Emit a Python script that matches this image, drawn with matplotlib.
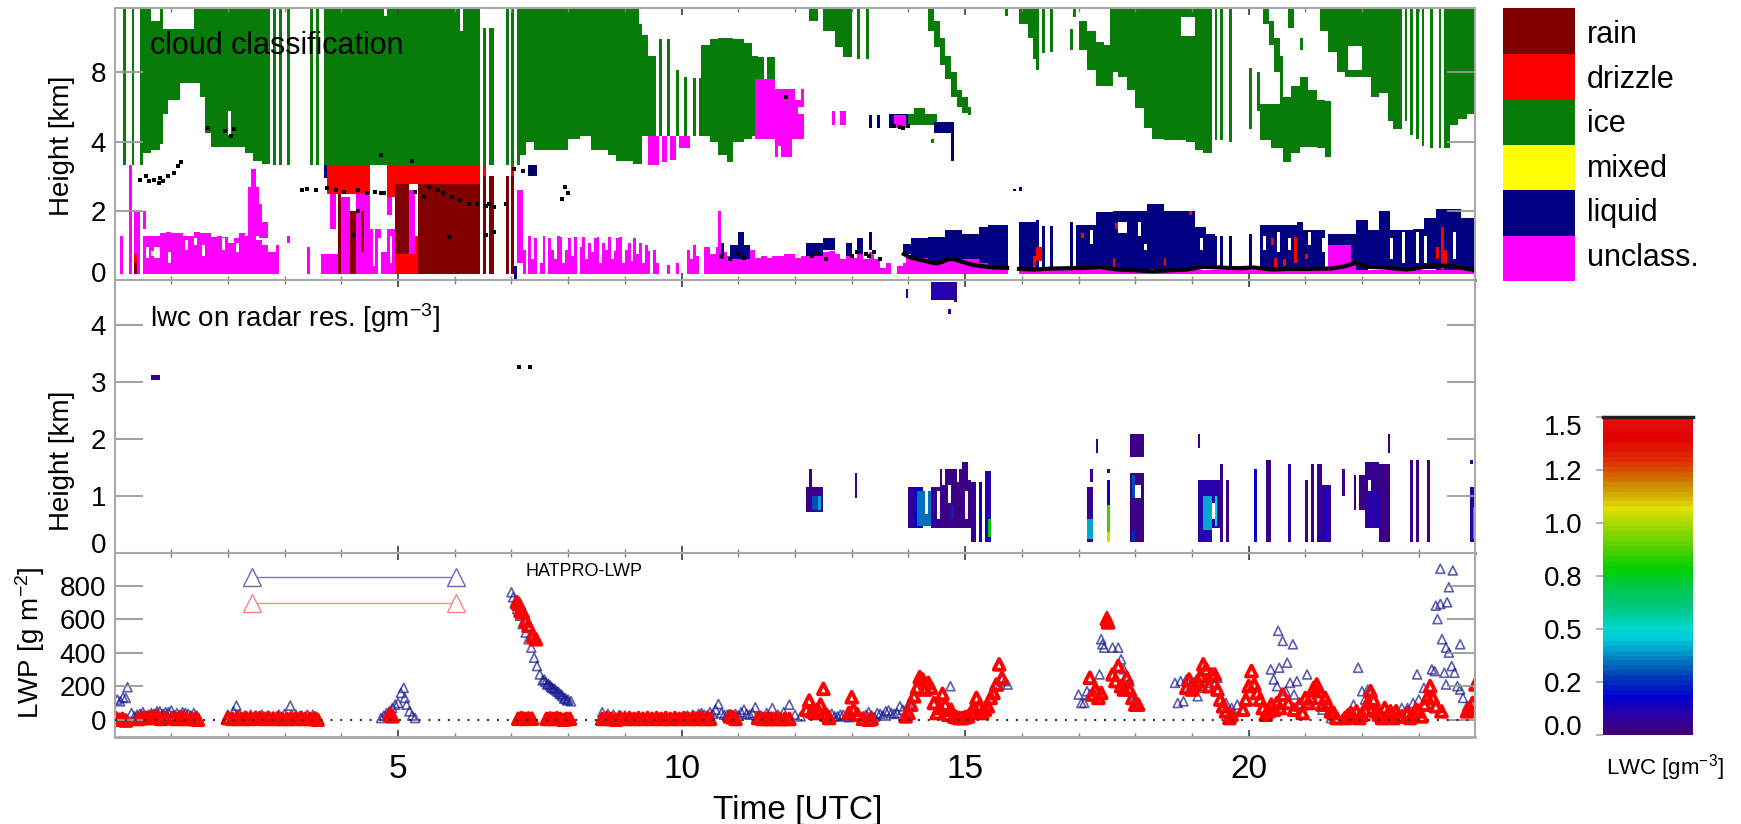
import numpy as np
import matplotlib
matplotlib.use("Agg")
import matplotlib.pyplot as plt
from matplotlib.colors import ListedColormap, LinearSegmentedColormap
from matplotlib.patches import Rectangle
from matplotlib.transforms import ScaledTranslation

plt.rcParams['font.family'] = ['Liberation Sans', 'DejaVu Sans']
plt.rcParams['mathtext.default'] = 'regular'

W, H = 1741, 824
GREY = '#a8a8a8'

# ---- cloud classification: height axis positions 0,2,4,6 carry labels 0,2,4,8
class_names = ['rain', 'drizzle', 'ice', 'mixed', 'liquid', 'unclass.']
class_colors = ['#800000', '#ff0000', '#087c08', '#ffff00', '#000080', '#ff00ff']
RAIN, DRIZZLE, ICE, MIXED, LIQUID, UNCLASS = 6, 5, 4, 3, 2, 1

height_ticks = [0, 2, 4, 6]
height_labels = ['0', '2', '4', '8']

ice_stripes = [0.13, 0.28, 0.44, 2.80, 2.92, 3.06, 3.43, 3.55, 3.68, 6.89, 6.98, 7.11,
               19.41, 19.51, 19.66, 22.75, 22.85, 22.94, 23.04, 23.2, 23.35]
ice_stripe_base = [3.31, 3.31, 3.31, 3.31, 3.31, 3.31, 3.31, 3.31, 3.31, 3.31, 3.31, 3.31,
                   4.05, 4.05, 4.0, 4.6, 4.2, 4.1, 3.9, 3.8, 3.8]
ice_blocks = [  # t0, t1, base, top
    (3.74, 6.44, 3.31, 7.86), (6.48, 6.54, 3.31, 7.28), (6.62, 6.68, 3.31, 7.28),
    (9.61, 9.66, 4.18, 6.94), (9.73, 9.78, 4.18, 6.94), (9.92, 9.97, 4.18, 6.1),
    (10.07, 10.12, 4.18, 5.9), (10.22, 10.27, 4.18, 5.83), (10.32, 10.36, 4.18, 5.83),
    (11.37, 11.45, 5.78, 6.45), (11.5, 11.64, 5.78, 6.45), (12.25, 12.4, 7.5, 7.86),
    (13.1, 13.15, 6.4, 7.86), (13.25, 13.3, 6.4, 7.86), (13.93, 14.5, 4.5, 4.8),
    (14.1, 14.3, 4.7, 4.95), (14.38, 14.43, 3.95, 4.1), (15.72, 15.77, 7.66, 7.86),
    (16.35, 16.4, 6.55, 7.86), (16.49, 16.54, 6.6, 7.86), (16.88, 16.93, 7.6, 7.86),
    (16.84, 16.91, 6.65, 7.23), (20.02, 20.07, 4.38, 6.12), (20.15, 20.2, 4.9, 6.0),
    (20.72, 20.78, 7.3, 7.86), (20.92, 20.97, 6.65, 7.0),
]
ice_body1_t = [0.49, 0.64, 0.78, 0.85, 0.93, 1.13, 1.42, 1.52, 1.59, 1.72, 2.11, 2.3, 2.45, 2.6, 2.75]
ice_body1_base = [3.7, 3.75, 3.94, 4.81, 5.2, 5.68, 5.68, 5.3, 4.23, 3.85, 3.85, 3.7, 3.46, 3.36]
ice_body1_top = [7.86, 7.5, 7.86, 7.23, 7.23, 7.23, 7.86, 7.86, 7.86, 7.86, 7.86, 7.86, 7.86, 7.86]

ice_body3_t = [7.13, 7.25, 7.4, 7.79, 7.99, 8.19, 8.38, 8.68, 8.87, 9.17, 9.25, 9.3, 9.41, 9.55]
ice_body3_base = [3.6, 4.0, 3.75, 3.75, 4.07, 4.15, 3.75, 3.6, 3.45, 3.36, 3.36, 4.18, 4.18]
ice_body3_top = [7.86, 7.86, 7.86, 7.86, 7.86, 7.86, 7.86, 7.86, 7.86, 7.86, 7.4, 7.1, 6.5]

ice_body4_t = [10.37, 10.5, 10.65, 10.78, 10.9, 11.1, 11.25, 11.34]
ice_body4_base = [4.18, 4.0, 3.6, 3.4, 4.0, 4.1, 4.18]
ice_body4_top = [6.79, 6.98, 7.02, 7.0, 6.95, 6.85, 6.5]

ice_body5_t = [12.48, 12.7, 12.85, 13.0]
ice_body5_base = [7.2, 6.74, 6.45]
ice_body5_top = [7.86, 7.86, 7.86]

ice_streak1_t = [14.33, 14.43, 14.53, 14.63, 14.73, 14.83, 14.93, 15.03, 15.1]
ice_streak1_base = [7.2, 6.7, 6.2, 5.8, 5.3, 5.0, 4.85, 4.75]
ice_streak1_top = [7.86, 7.5, 7.0, 6.5, 6.0, 5.5, 5.3, 5.0]

ice_bodyA_t = [15.96, 16.1, 16.2, 16.27, 16.32]
ice_bodyA_base = [7.4, 7.0, 6.4, 6.1]
ice_bodyA_top = [7.86, 7.86, 7.86, 7.86]

ice_streak2_t = [17.0, 17.15, 17.3, 17.45, 17.6]
ice_streak2_base = [6.65, 6.1, 5.6, 5.6]
ice_streak2_top = [7.5, 7.2, 6.9, 6.8]

ice_bodyB_t = [17.55, 17.7, 17.85, 18.0, 18.15, 18.3, 18.5, 18.7, 18.9, 19.05, 19.2, 19.35]
ice_bodyB_base = [6.0, 5.9, 5.5, 4.95, 4.4, 4.1, 4.05, 4.05, 4.0, 3.75, 3.7]
ice_bodyB_top = [7.86] * 11

ice_streak3_t = [20.25, 20.34, 20.44, 20.54, 20.62]
ice_streak3_base = [7.4, 6.8, 6.0, 4.5]
ice_streak3_top = [7.86, 7.5, 7.0, 6.5]

ice_bodyC_t = [20.2, 20.4, 20.6, 20.75, 20.9, 21.05, 21.2, 21.35, 21.43, 21.47]
ice_bodyC_base = [4.04, 3.8, 3.4, 3.7, 3.85, 3.85, 3.8, 3.55, 3.6]
ice_bodyC_top = [5.1, 5.1, 5.3, 5.6, 5.9, 5.5, 5.2, 5.15, 4.3]

ice_bodyD_t = [21.23, 21.4, 21.55, 21.7, 21.85, 22.0, 22.15, 22.3, 22.45, 22.55, 22.7]
ice_bodyD_base = [7.2, 6.6, 6.0, 5.9, 5.9, 5.9, 5.3, 5.4, 4.6, 4.35]
ice_bodyD_top = [7.86] * 10
ice_bodyE_t = [23.45, 23.53, 23.7, 23.85, 24.0]
ice_bodyE_base = [3.8, 4.5, 4.65, 4.8]
ice_bodyE_top = [7.86, 7.86, 7.86, 7.86]

ice_holes = [(4.75, 4.8, 7.65, 7.86), (6.08, 6.15, 7.2, 7.86), (18.8, 19.05, 7.03, 7.6),
             (21.75, 22.0, 6.07, 6.75), (1.05, 1.1, 4.6, 5.0), (2.0, 2.05, 4.2, 4.9)]

# low level "unclass." columns
unclass_t1 = [0.5, 0.6, 0.7, 0.8, 0.9, 1.0, 1.1, 1.2, 1.3, 1.4, 1.5, 1.6, 1.7, 1.8, 1.9, 2.0, 2.1,
              2.2, 2.3, 2.4, 2.5, 2.6, 2.7, 2.8]
unclass_top1 = [1.3, 1.3, 1.3, 1.35, 1.4, 1.35, 1.35, 1.3, 1.3, 1.4, 1.35, 1.35, 1.25, 1.3, 1.25,
                1.1, 1.2, 1.35, 1.3, 1.3, 1.15, 1.0, 0.8, 0.8]
unclass_t2 = [7.2, 7.25, 7.3, 7.35, 7.4, 7.45, 7.5, 7.55, 7.6, 7.65, 7.7, 7.75, 7.8, 7.85, 7.9, 7.95,
              8.0, 8.05, 8.1, 8.15, 8.2, 8.25, 8.3, 8.35, 8.4, 8.45, 8.5, 8.55, 8.6, 8.65, 8.7, 8.75,
              8.8, 8.85, 8.9, 8.95, 9.0, 9.05, 9.1, 9.15, 9.2, 9.25, 9.3, 9.35, 9.4, 9.45, 9.5, 9.55,
              9.6, 9.65, 9.7, 9.75, 9.8, 9.85, 9.9, 9.95, 10.0, 10.05, 10.1, 10.15, 10.2, 10.25]
unclass_top2 = [0.9, 0, 1.3, 0.6, 1.2, 0, 0.5, 1.3, 0, 1.2, 0.9, 0.6, 1.3, 1.25, 0.5, 0.9, 1.2, 0.7,
                1.25, 0, 0.95, 1.25, 0.6, 1.1, 0.8, 1.2, 1.25, 0.5, 1.1, 0.9, 1.25, 0.6, 0.85, 1.2,
                1.25, 0.5, 0.9, 1.1, 0.55, 1.2, 0.75, 1.1, 0.5, 1.0, 0.85, 0, 0.9, 0.5, 0, 0, 0,
                0.45, 0, 0, 0.5, 0, 0, 0, 0.9, 0.6, 1.0, 0.7]
unclass_t3 = [10.4, 10.5, 10.6, 10.7, 10.8, 10.9, 11.0, 11.1, 11.2, 11.3, 11.4, 11.5, 11.6, 11.7, 11.8,
              11.9, 12.0, 12.1, 12.2, 12.3, 12.4, 12.5, 12.6, 12.7, 12.8, 12.9, 13.0, 13.1, 13.2, 13.3,
              13.4, 13.5, 13.6, 13.7, 13.8, 13.9]
unclass_top3 = [0.95, 0.75, 0.95, 0.8, 0.7, 0.85, 0.7, 0.65, 0.9, 0.65, 0.7, 0.65, 0.7, 0.7, 0.75, 0.75,
                0.65, 0.7, 0.85, 0.8, 0.8, 0.8, 0.85, 0.75, 0.6, 0.75, 0.65, 0.8, 0.6, 0.8, 0.6, 0.35,
                0.5, 0, 0.4, 0.5]
unclass_blocks = [
    (0.1, 0.16, 0.18, 1.3), (0.23, 0.29, 0.18, 3.31), (0.33, 0.45, 0.18, 1.95), (0.49, 0.53, 1.5, 2.0),
    (2.37, 2.55, 1.3, 2.7), (2.55, 2.62, 1.2, 2.2), (2.62, 2.72, 1.2, 1.7), (2.42, 2.48, 2.7, 3.2),
    (2.84, 2.88, 0.18, 1.0), (3.07, 3.1, 1.1, 1.3), (3.4, 3.44, 0.18, 0.95), (3.54, 3.57, 0.18, 0.6),
    (3.63, 3.95, 0.18, 0.75), (3.8, 3.88, 1.5, 2.6), (4.02, 4.15, 0.18, 2.4), (4.27, 4.48, 0.18, 2.49),
    (4.48, 4.95, 0.18, 1.5), (4.8, 4.9, 1.9, 2.4), (5.18, 5.3, 0.76, 2.6), (7.12, 7.2, 0.5, 2.6),
    (10.64, 10.7, 0.8, 2.0), (11.32, 12.17, 4.1, 5.53), (11.65, 11.95, 3.55, 4.1), (11.3, 11.66, 5.5, 5.78),
    (12.65, 12.7, 4.5, 4.9), (12.8, 12.9, 4.5, 4.9),
    (9.38, 9.6, 3.31, 4.18), (9.66, 9.73, 3.4, 4.18), (9.78, 9.92, 3.5, 4.18), (9.97, 10.15, 3.8, 4.18),
    (21.42, 21.8, 0.17, 1.0), (21.8, 21.9, 0.17, 0.5),
]
unclass_holes = [(0.55, 0.62, 0.65, 0.95), (0.72, 0.78, 0.65, 0.95), (0.95, 1.0, 0.5, 0.8),
                 (1.25, 1.3, 0.9, 1.15), (1.55, 1.6, 0.7, 1.0), (1.9, 1.95, 0.9, 1.2),
                 (2.15, 2.2, 0.8, 1.1), (0.65, 0.7, 0.7, 0.85), (1.4, 1.45, 1.0, 1.2), (1.68, 1.72, 0.75, 0.95),
                 (4.48, 4.8, 1.52, 3.31), (4.48, 4.52, 0.18, 1.5), (4.55, 4.62, 0.4, 1.5), (4.65, 4.7, 0.18, 1.2),
                 (4.72, 4.78, 0.8, 1.5), (4.85, 4.9, 0.5, 1.3), (3.68, 3.72, 0.4, 0.75),
                 (11.7, 11.75, 3.55, 3.9), (12.0, 12.1, 5.2, 5.53), (12.05, 12.17, 4.8, 5.0)]

# precipitation blocks
drizzle_blocks = [(3.76, 4.48, 2.49, 3.31), (4.8, 6.45, 2.78, 3.31), (4.8, 4.95, 2.4, 2.78), (4.95, 5.3, 0.18, 0.76),
                  (5.3, 5.36, 0.18, 1.3), (6.48, 6.54, 3.02, 3.31), (6.98, 7.05, 3.02, 3.31), (0.33, 0.4, 0.18, 0.75),
                  (16.27, 16.37, 0.56, 0.95), (16.2, 16.25, 0.35, 0.7), (17.62, 17.67, 0.37, 0.66), (17.05, 17.1, 1.2, 1.35),
                  (18.5, 18.55, 0.4, 0.65), (20.78, 20.83, 0.46, 1.24), (20.45, 20.5, 0.35, 0.66), (20.6, 20.65, 0.4, 0.6),
                  (23.38, 23.43, 0.27, 1.53), (23.3, 23.35, 0.6, 0.95), (23.45, 23.5, 0.4, 0.9), (21.0, 21.05, 0.6, 0.75),
                  (18.96, 19.0, 1.9, 2.0), (17.65, 17.7, 1.5, 1.65), (20.4, 20.43, 1.0, 1.2)]
rain_blocks = [(0.23, 0.27, 1.8, 2.6), (0.23, 0.27, 0.9, 1.2), (0.36, 0.4, 0.18, 0.5), (3.95, 4.02, 0.18, 2.49), (4.15, 4.27, 0.18, 2.0),
               (4.37, 4.42, 0.8, 2.0), (4.95, 5.18, 0.76, 2.78), (5.36, 6.45, 0.18, 2.78), (6.48, 6.54, 0.18, 3.02),
               (6.62, 6.68, 0.18, 3.02), (6.89, 6.95, 0.18, 3.02), (6.98, 7.05, 0.18, 3.02)]

# liquid profile: t, base, top
liquid_t1 = [13.92, 14.07, 14.36, 14.66, 14.95, 15.25, 15.39, 15.74]
liquid_base1 = [0.75, 0.66, 0.51, 0.56, 0.61, 0.46, 0.42]
liquid_top1 = [1.04, 1.19, 1.24, 1.43, 1.33, 1.53, 1.6]
liquid_t2 = [15.96, 16.23, 16.32]
liquid_base2 = [0.32, 0.32]
liquid_top2 = [1.67, 1.72]
liquid_t3 = [16.96, 17.3, 17.6, 17.89, 18.19, 18.48, 18.97, 19.07, 19.26, 19.4]
liquid_base3 = [0.32, 0.32, 0.32, 0.32, 0.32, 0.32, 0.32, 0.32, 0.32]
liquid_top3 = [1.62, 1.96, 2.0, 2.0, 2.2, 2.0, 2.0, 1.53, 1.33]
liquid_t4 = [20.2, 20.83, 20.93, 21.37]
liquid_base4 = [0.32, 0.32, 0.32]
liquid_top4 = [1.62, 1.67, 1.43]
liquid_t5 = [21.42, 21.91, 22.1, 22.3, 22.5, 22.89, 23.09, 23.28, 23.77, 24.0]
liquid_base5 = [0.3, 0.3, 0.32, 0.32, 0.32, 0.32, 0.32, 0.3, 0.3]
liquid_top5 = [1.33, 1.72, 1.43, 2.0, 1.43, 1.5, 1.8, 2.06, 1.8]
liquid_blocks = [
    (16.35, 16.4, 0.32, 1.55), (16.49, 16.54, 0.32, 1.55), (16.84, 16.91, 0.32, 1.7),
    (19.41, 19.46, 0.32, 1.3), (19.51, 19.56, 0.32, 1.3), (19.66, 19.71, 0.32, 1.3), (20.02, 20.07, 0.32, 1.33),
    (10.85, 11.2, 0.6, 1.0), (11.0, 11.1, 1.0, 1.4), (10.7, 10.75, 0.6, 1.1), (12.2, 12.5, 0.7, 1.1),
    (12.5, 12.7, 0.9, 1.2), (12.9, 13.0, 0.7, 1.1), (13.1, 13.2, 0.75, 1.2), (13.28, 13.35, 0.9, 1.4),
    (3.68, 3.74, 2.97, 3.31), (4.05, 4.1, 3.0, 3.31), (4.22, 4.3, 2.9, 3.31), (4.34, 4.45, 3.05, 3.31),
    (5.62, 5.68, 3.0, 3.31), (5.75, 5.8, 3.05, 3.31), (7.3, 7.45, 3.0, 3.31),
    (13.3, 13.35, 4.4, 4.75), (13.45, 13.5, 4.4, 4.75), (13.65, 14.0, 4.4, 4.8), (14.46, 14.8, 4.23, 4.57),
    (14.76, 14.8, 3.46, 4.23), (15.95, 16.0, 2.55, 2.7), (15.86, 15.9, 2.55, 2.65), (7.05, 7.1, 0.05, 0.4),
]
liquid_holes = [(16.55, 16.83, 0.32, 1.7), (17.7, 17.85, 1.35, 1.7), (17.2, 17.25, 1.05, 1.45), (18.05, 18.1, 1.3, 1.7),
                (18.14, 18.2, 0.9, 1.05), (19.15, 19.2, 0.9, 1.2), (20.25, 20.3, 0.9, 1.3), (20.52, 20.57, 0.8, 1.4),
                (20.7, 20.73, 0.9, 1.2), (21.05, 21.1, 1.0, 1.4), (21.3, 21.35, 0.8, 1.2), (22.5, 22.55, 0.6, 1.2),
                (22.7, 22.75, 0.5, 1.4), (22.95, 23.0, 0.5, 1.4), (23.12, 23.16, 0.5, 1.3), (23.6, 23.65, 0.6, 1.4)]

# ceilometer cloud base and melting layer dots
ceilo_t = [13.92, 14.0, 14.1, 14.2, 14.3, 14.4, 14.5, 14.6, 14.7, 14.8, 14.9, 15.0, 15.1, 15.2, 15.3, 15.4, 15.5, 15.6, 15.74,
           np.nan, 15.95, 16.2, 16.5, 16.8, 17.1, 17.4, 17.7, 18.0, 18.3, 18.6, 18.9, 19.2, 19.5, 19.8, 20.1, 20.4, 20.7, 21.0, 21.37,
           np.nan, 21.45, 21.7, 21.9, 22.1, 22.4, 22.6, 22.8, 23.0, 23.2, 23.4, 23.6, 23.8, 23.98]
ceilo_h = [0.75, 0.68, 0.62, 0.58, 0.55, 0.5, 0.48, 0.53, 0.6, 0.6, 0.55, 0.5, 0.45, 0.42, 0.4, 0.38, 0.36, 0.36, 0.35,
           np.nan, 0.32, 0.3, 0.33, 0.34, 0.35, 0.36, 0.3, 0.28, 0.25, 0.28, 0.3, 0.38, 0.36, 0.34, 0.36, 0.3, 0.32, 0.32, 0.33,
           np.nan, 0.33, 0.4, 0.5, 0.38, 0.36, 0.33, 0.3, 0.35, 0.4, 0.42, 0.4, 0.34, 0.28]
melt_t = [0.45, 0.55, 0.7, 0.78, 0.85, 0.95, 1.05, 1.12, 1.18, 0.6, 0.8, 3.3, 3.4, 3.55, 3.75, 3.9, 4.05, 4.3, 4.45, 4.6, 4.7, 4.75,
          4.3, 4.2, 5.3, 5.45, 5.55, 5.7, 5.8, 5.95, 6.1, 6.25, 6.4, 6.55, 6.6, 6.7, 6.9, 7.05, 7.2, 7.35, 7.95, 8.0, 7.9,
          1.65, 1.95, 2.05, 2.1, 4.7, 5.25, 10.7, 10.85, 11.0, 11.1, 12.3, 12.4, 12.55, 13.0, 13.1, 13.25, 13.3, 11.85,
          13.75, 13.85, 13.9, 14.0, 13.4, 13.5, 6.55, 6.7, 5.9]
melt_h = [2.9, 3.0, 2.9, 2.8, 2.85, 3.0, 3.1, 3.3, 3.4, 2.85, 2.95, 2.6, 2.62, 2.6, 2.65, 2.6, 2.55, 2.6, 2.5, 2.55, 2.5, 2.5,
          2.0, 1.3, 2.55, 2.4, 2.7, 2.6, 2.5, 2.4, 2.3, 2.2, 2.2, 2.15, 2.2, 2.1, 2.2, 3.2, 3.15, 3.15, 2.7, 2.5, 2.35,
          4.4, 4.3, 4.15, 4.35, 3.6, 3.45, 0.7, 0.6, 0.75, 0.65, 0.7, 0.75, 0.6, 0.7, 0.8, 0.75, 0.7, 5.3,
          4.45, 4.42, 4.4, 4.45, 0.8, 0.6, 1.3, 1.4, 1.25]

# ---- liquid water content blocks: t0, t1, bottom km, top km, value
lwc_blocks = [
    (0.63, 0.78, 3.03, 3.12, 0.05), (14.4, 14.8, 4.45, 4.78, 0.1), (13.95, 14.0, 4.5, 4.65, 0.05), (14.7, 14.75, 4.2, 4.3, 0.05),
    (14.82, 14.87, 4.42, 4.78, 0.05),
    (12.2, 12.5, 0.72, 1.15, 0.03), (12.3, 12.4, 0.75, 1.0, 0.3), (12.42, 12.47, 0.75, 1.0, 0.4), (12.25, 12.3, 1.15, 1.5, 0.03),
    (13.05, 13.1, 0.95, 1.4, 0.05),
    (14.02, 14.1, 0.45, 1.16, 0.05), (14.1, 14.25, 0.45, 1.16, 0.15), (14.15, 14.4, 0.5, 1.1, 0.35), (14.4, 14.55, 0.45, 1.15, 0.05),
    (14.55, 14.95, 0.45, 1.5, 0.03), (14.95, 15.1, 0.45, 1.6, 0.03), (14.75, 14.8, 0.6, 0.85, 0.25),
    (15.1, 15.2, 0.19, 1.25, 0.05), (15.25, 15.32, 0.19, 1.25, 0.15), (15.37, 15.45, 0.19, 1.45, 0.1), (15.4, 15.45, 0.3, 0.6, 0.75),
    (17.13, 17.25, 0.19, 1.16, 0.05), (17.13, 17.25, 0.25, 0.6, 0.4), (17.2, 17.25, 1.25, 1.47, 0.03), (17.3, 17.35, 1.75, 2.0, 0.03),
    (17.5, 17.55, 0.19, 1.3, 0.15), (17.5, 17.55, 0.2, 0.85, 0.85), (17.5, 17.55, 0.19, 0.35, 1.05), (17.5, 17.55, 1.4, 1.5, 0.03),
    (17.9, 18.15, 1.7, 2.09, 0.03), (17.9, 18.15, 0.19, 1.4, 0.03), (17.95, 18.0, 0.95, 1.35, 0.3), (17.95, 18.02, 0.2, 0.4, 0.25),
    (19.1, 19.14, 1.85, 2.09, 0.03), (19.1, 19.35, 0.19, 1.27, 0.1), (19.2, 19.33, 0.4, 1.0, 0.4), (19.35, 19.5, 0.45, 1.27, 0.1),
    (19.38, 19.45, 0.5, 1.0, 0.5), (19.5, 19.55, 0.19, 1.55, 0.03), (19.6, 19.65, 0.19, 1.27, 0.03),
    (20.1, 20.15, 0.19, 1.47, 0.15), (20.32, 20.42, 0.19, 1.66, 0.03), (20.72, 20.77, 0.19, 1.57, 0.1),
    (21.02, 21.07, 0.19, 1.3, 0.03), (21.12, 21.17, 0.19, 1.57, 0.05), (21.2, 21.3, 0.19, 1.57, 0.05), (21.3, 21.45, 0.19, 1.2, 0.1),
    (21.65, 21.7, 1.0, 1.47, 0.03), (21.83, 21.88, 0.75, 1.35, 0.03), (21.97, 22.05, 0.75, 1.35, 0.03),
    (22.05, 22.3, 0.45, 1.6, 0.05), (22.1, 22.3, 0.45, 1.1, 0.1), (22.3, 22.5, 0.19, 1.57, 0.03), (22.44, 22.52, 1.75, 2.09, 0.03),
    (22.85, 22.9, 0.19, 1.65, 0.03), (22.93, 22.98, 0.19, 1.65, 0.03), (23.15, 23.2, 0.19, 1.65, 0.03),
    (23.92, 24.0, 0.19, 1.16, 0.1), (23.96, 24.0, 0.25, 0.8, 0.4), (23.92, 23.96, 1.55, 1.65, 0.03),
]
lwc_holes = [(14.32, 14.35, 0.7, 1.16), (14.5, 14.53, 0.6, 1.1), (14.7, 14.75, 0.9, 1.2), (15.0, 15.05, 0.6, 1.1),
             (14.6, 14.64, 1.2, 1.5), (14.85, 14.9, 1.25, 1.5), (15.05, 15.1, 1.3, 1.6),
             (17.98, 18.1, 1.4, 1.7), (17.98, 18.12, 0.95, 1.2), (19.35, 19.38, 0.6, 0.9),
             (21.15, 21.2, 0.19, 1.0), (21.28, 21.3, 0.5, 0.8), (22.1, 22.14, 1.1, 1.3), (23.18, 23.2, 1.0, 1.2)]
lwc_dots_t = [7.13, 7.33]
lwc_dots_h = [3.27, 3.27]

cbar_ticks = [0.0, 0.25, 0.5, 0.75, 1.0, 1.25, 1.5]
cbar_labels = ['0.0', '0.2', '0.5', '0.8', '1.0', '1.2', '1.5']
cbar_nodes = [(0.00, '#400078'), (0.09, '#2800a8'), (0.17, '#0000d0'), (0.26, '#0038b8'), (0.355, '#0080c0'),
              (0.45, '#00c8d8'), (0.5, '#00d8d0'), (0.59, '#00c888'), (0.69, '#00c850'), (0.78, '#00d000'),
              (0.88, '#50d000'), (0.99, '#a0d800'), (1.07, '#e0e000'), (1.145, '#d0a800'), (1.22, '#d07000'),
              (1.30, '#e03000'), (1.41, '#e00000'), (1.5, '#e01010')]

# ---- liquid water path
lwp_ticks = [0, 200, 400, 600, 800]
legend_t = [2.42, 6.03]
legend_blue = [848, 848]
legend_red = [694, 694]

blue_t = [0.05, 0.1, 0.15, 0.2, 0.23, 0.3, 0.4, 0.5, 0.6, 0.7, 0.8, 0.9, 1.0, 1.1, 1.2, 1.3, 1.4, 1.45,
          0.35, 0.45, 0.55, 0.65, 0.75, 0.85, 0.95, 1.05, 1.15, 1.25, 1.35,
          2.0, 2.1, 2.15, 2.2, 2.3, 2.4, 2.5, 2.6, 2.7, 2.8, 2.9, 3.0, 3.1, 3.2, 3.3, 3.4, 3.5, 3.55,
          4.7, 4.75, 4.8, 4.85, 4.9, 4.95, 5.0, 5.05, 5.1, 5.12, 5.15, 5.2, 5.25, 5.3,
          7.0, 7.03, 7.06, 7.1, 7.15, 7.2, 7.25, 7.3, 7.35, 7.4, 7.45, 7.5, 7.55, 7.6, 7.65, 7.7, 7.75, 7.8, 7.85, 7.9, 7.95, 8.0, 8.05,
          7.58, 7.63, 7.68, 7.72, 7.77, 7.83, 7.88, 7.93, 7.98,
          8.6, 8.7, 8.8, 8.9, 9.0, 9.1, 9.2, 9.4, 9.6, 9.8, 10.0, 10.1, 10.2, 10.3, 10.4, 10.5, 10.6, 10.65, 10.7, 10.8, 10.9, 11.0, 11.2, 11.3,
          11.4, 11.5, 11.6, 11.7, 11.8, 11.9, 12.0, 12.1, 12.3, 12.6, 12.7, 12.8, 12.9, 13.1, 13.2, 13.3, 13.4, 13.5, 13.6, 13.7, 13.8, 13.85, 13.9, 14.0,
          10.25, 10.35, 10.45, 10.55, 10.75, 10.85, 10.95, 11.05, 11.1, 11.15, 11.25, 12.65, 12.75, 12.85, 12.95, 13.25, 13.35, 13.45, 13.55, 13.65, 13.75,
          14.74, 15.5, 15.6, 15.7, 15.75,
          17.0, 17.05, 17.1, 17.15, 17.2, 17.3, 17.37, 17.4, 17.42, 17.45, 17.5, 17.55, 17.6, 17.7, 17.75, 17.8, 17.85, 17.9, 18.0, 18.05,
          18.7, 18.75, 18.8, 18.85, 18.9, 18.95, 19.0, 19.1, 19.2, 19.3, 19.4, 19.45, 19.6, 19.7, 19.8,
          20.39, 20.44, 20.5, 20.52, 20.54, 20.6, 20.65, 20.68, 20.73, 20.78, 20.8, 20.85, 20.9, 21.03, 21.1, 21.3,
          21.45, 21.55, 21.65, 21.75, 21.85, 21.93, 22.0, 22.05, 22.1, 22.3, 22.5, 22.7, 22.8,
          22.9, 22.97, 23.0, 23.09, 23.15, 23.23, 23.28, 23.3, 23.33, 23.38, 23.38, 23.41, 23.45, 23.48, 23.48, 23.5, 23.53, 23.53, 23.58, 23.6, 23.63,
          23.68, 23.73, 23.73, 23.78, 23.85, 23.9]
blue_v = [120, 110, 134, 130, 194, 40, 30, 45, 30, 35, 50, 45, 55, 40, 45, 35, 40, 25,
          20, 35, 25, 40, 50, 35, 45, 25, 30, 40, 25,
          30, 50, 84, 30, 25, 30, 25, 30, 25, 20, 30, 35, 84, 30, 25, 30, 30, 20,
          10, 25, 40, 50, 70, 90, 100, 160, 190, 130, 90, 50, 25, 10,
          760, 730, 700, 660, 620, 570, 520, 480, 430, 370, 320, 270, 235, 225, 215, 195, 185, 170, 155, 140, 130, 120, 110,
          240, 210, 205, 190, 180, 165, 150, 125, 115,
          45, 35, 30, 28, 25, 15, 10, 8, 5, 8, 10, 25, 30, 35, 30, 45, 60, 94, 40, 30, 25, 25, 30, 74,
          25, 40, 70, 30, 45, 90, 30, 20, 40, 30, 20, 30, 20, 45, 20, 45, 15, 35, 50, 40, 40, 80, 60, 90,
          20, 40, 25, 35, 30, 20, 35, 45, 60, 35, 40, 35, 20, 30, 15, 30, 25, 40, 25, 55, 35,
          200, 150, 200, 230, 210,
          150, 100, 100, 170, 150, 200, 270, 480, 450, 430, 620, 580, 430, 430, 360, 300, 260, 230, 130, 100,
          220, 100, 230, 110, 240, 180, 220, 140, 190, 220, 210, 250, 100, 70, 90,
          300, 240, 200, 530, 310, 470, 170, 340, 220, 450, 150, 230, 100, 270, 90, 60,
          10, 5, 5, 40, 90, 310, 170, 120, 180, 60, 30, 70, 70,
          100, 270, 120, 190, 150, 300, 290, 680, 600, 900, 690, 480, 280, 430, 210, 700, 790, 400, 320, 890, 280,
          200, 450, 180, 130, 80, 60]
red_t = [0.02, 0.08, 0.14, 0.2, 0.42, 0.5, 0.58, 0.66, 0.74, 0.82, 0.9, 1.02, 1.1, 1.18, 1.26, 1.34, 1.42, 1.47,
         2.0, 2.08, 2.16, 2.24, 2.32, 2.4, 2.48, 2.56, 2.64, 2.72, 2.8, 2.88, 2.96, 3.04, 3.12, 3.2, 3.28, 3.36, 3.44, 3.52, 3.58,
         4.85, 4.9, 7.1, 7.13, 7.16, 7.2, 7.25, 7.3, 7.38, 7.43, 7.12, 7.18, 7.24, 7.3, 7.36, 7.62, 7.68, 7.74, 7.8, 7.86, 7.92,
         7.97, 8.03,
         8.6, 8.68, 8.76, 8.84, 8.92, 9.0, 9.08, 9.16, 9.24, 9.32, 9.4, 9.48, 9.56, 9.64, 9.72, 9.8, 9.88, 9.96, 10.04, 10.12, 10.2, 10.28, 10.36, 10.44, 10.5,
         10.85, 10.9, 10.95, 11.35, 11.43, 11.5, 11.58, 11.66, 11.74, 11.82, 11.9, 12.2, 12.25, 12.3, 12.35, 12.4, 12.45, 12.5, 12.55, 12.6, 13.0, 13.03, 13.1,
         12.95, 13.2, 13.3, 13.35, 13.95, 14.0, 14.05, 14.1, 14.15, 14.2, 14.25, 14.3, 14.35, 14.4, 14.45, 14.5, 14.55, 14.6, 14.65, 14.7, 14.75, 14.8, 14.85, 14.9, 14.95, 15.0,
         15.05, 15.1, 15.15, 15.2, 15.25, 15.3, 15.35, 15.4, 15.45, 15.5, 15.55, 15.6, 15.65,
         17.2, 17.25, 17.3, 17.35, 17.4, 17.5, 17.52, 17.6, 17.65, 17.7, 17.75, 17.8, 17.85, 17.9, 17.95, 18.0, 18.05,
         18.9, 18.95, 19.0, 19.05, 19.1, 19.15, 19.2, 19.25, 19.3, 19.35, 19.4, 19.45, 19.5, 19.55, 19.6, 19.66, 19.7,
         19.9, 19.95, 20.0, 20.05, 20.1, 20.15, 20.2, 20.25, 20.3, 20.35, 20.4, 20.45, 20.5, 20.55, 20.6, 20.7, 20.8, 20.9, 20.95, 21.0, 21.05, 21.1, 21.15, 21.2, 21.25, 21.3, 21.35, 21.4, 21.45, 21.5, 21.55,
         21.7, 21.75, 21.8, 21.85, 21.9, 21.95, 22.0, 22.05, 22.1, 22.15, 22.2, 22.25, 22.3, 22.35, 22.4, 22.45, 22.5, 22.55, 22.6, 22.65, 22.7,
         22.8, 22.85, 22.9, 22.95, 23.0, 23.05, 23.1, 23.15, 23.2, 23.25, 23.3, 23.4, 23.85, 23.9, 23.95, 24.0]
red_v = [10, 0, 5, -5, 5, 10, 10, 15, 20, 5, 10, 10, 5, 15, 5, 5, 5, 0,
         10, 5, 10, 5, 10, 5, 10, 10, 5, 10, 5, 10, 5, 5, 10, 5, 10, 5, 5, 5, 0,
         30, 20, 700, 690, 650, 640, 590, 560, 500, 480, 6, 10, 5, 8, 6, 5, 8, 5, 10, 5, 0,
         5, 5,
         5, 10, 5, 0, 10, 5, 10, 5, 10, 5, 10, 5, 10, 5, 10, 5, 10, 5, 10, 5, 10, 5, 10, 5, 5,
         20, 15, 5, 10, 5, 5, 5, 5, 5, 5, 5, 60, 114, 50, 40, 60, 90, 184, 30, 10, 134, 60, 30,
         40, 5, 0, 5, 20, 40, 90, 140, 190, 254, 240, 180, 220, 190, 100, 40, 70, 154, 90, 30, 60, 20, 15, 10, 10, 15,
         20, 40, 70, 130, 80, 40, 60, 80, 130, 160, 210, 330, 250,
         250, 150, 180, 130, 160, 600, 580, 270, 230, 320, 200, 180, 250, 180, 130, 90, 90,
         190, 240, 180, 210, 230, 260, 330, 300, 200, 270, 270, 180, 120, 80, 50, 10, 30,
         60, 120, 200, 290, 210, 160, 120, 70, 30, 50, 90, 60, 100, 70, 150, 100, 60, 90, 40, 130, 100, 130, 190, 210, 170, 90, 130, 90, 50, 40, 10,
         10, 25, 40, 15, 50, 10, 30, 60, 100, 170, 120, 50, 30, 10, 70, 30, 50, 10, 50, 20, 20,
         40, 10, 30, 60, 50, 20, 90, 130, 200, 130, 80, 50, 50, 70, 100, 210]

hours = [1, 2, 3, 4, 5, 6, 7, 8, 9, 10, 11, 12, 13, 14, 15, 16, 17, 18, 19, 20, 21, 22, 23]
major_hours = [5, 10, 15, 20]


def paint(grid, tc, hc, t0, t1, b, h, val):
    i = np.where((tc >= t0) & (tc < t1))[0]
    j = np.where((hc >= b) & (hc < h))[0]
    if len(i) and len(j):
        grid[np.ix_(j, i)] = val


def paint_profile(grid, tc, hc, t, base, top, val):
    for k in range(len(base)):
        paint(grid, tc, hc, t[k], t[k + 1], base[k], top[k], val)


def pos(left, top, right, bottom):
    return [left / W, 1 - bottom / H, (right - left) / W, (bottom - top) / H]


def style_axis(ax):
    ax.set_xlim(0, 24)
    for s in ax.spines.values():
        s.set_color(GREY)
        s.set_linewidth(1.5)
    ax.spines['bottom'].set_color('#707070')
    ax.spines['bottom'].set_linewidth(2)
    ax.set_xticks(major_hours)
    ax.set_xticks(hours, minor=True)
    ax.tick_params(axis='x', which='major', direction='in', top=True, length=5, width=1.2, color='#404040')
    ax.tick_params(axis='x', which='minor', direction='in', top=True, length=3, width=1, color='#808080')
    ax.tick_params(axis='y', direction='in', right=True, length=20, width=1.3, color='#989898', labelsize=20, pad=6)


def shift_label(label, px):
    label.set_transform(label.get_transform() + ScaledTranslation(0, px / 100, fig.dpi_scale_trans))


# build the classification picture
time_edges = np.arange(0, 24.01, 0.05)
class_edges = np.arange(0, 7.9, 0.04)
tc = 0.5 * (time_edges[:-1] + time_edges[1:])
hc = 0.5 * (class_edges[:-1] + class_edges[1:])
classes = np.zeros((len(hc), len(tc)))

for t, b in zip(ice_stripes, ice_stripe_base):
    paint(classes, tc, hc, t, t + 0.05, b, 7.86, ICE)
for t0, t1, b, h in ice_blocks:
    paint(classes, tc, hc, t0, t1, b, h, ICE)
for t, b, h in [(ice_body1_t, ice_body1_base, ice_body1_top), (ice_body3_t, ice_body3_base, ice_body3_top),
                (ice_body4_t, ice_body4_base, ice_body4_top), (ice_body5_t, ice_body5_base, ice_body5_top),
                (ice_streak1_t, ice_streak1_base, ice_streak1_top), (ice_bodyA_t, ice_bodyA_base, ice_bodyA_top),
                (ice_streak2_t, ice_streak2_base, ice_streak2_top), (ice_bodyB_t, ice_bodyB_base, ice_bodyB_top),
                (ice_streak3_t, ice_streak3_base, ice_streak3_top), (ice_bodyC_t, ice_bodyC_base, ice_bodyC_top),
                (ice_bodyD_t, ice_bodyD_base, ice_bodyD_top), (ice_bodyE_t, ice_bodyE_base, ice_bodyE_top)]:
    paint_profile(classes, tc, hc, t, b, h, ICE)
for t0, t1, b, h in ice_holes:
    paint(classes, tc, hc, t0, t1, b, h, 0)

for t, h in zip(unclass_t1, unclass_top1):
    paint(classes, tc, hc, t, t + 0.1, 0.18, h, UNCLASS)
for t, h in zip(unclass_t2, unclass_top2):
    paint(classes, tc, hc, t, t + 0.05, 0.18, h, UNCLASS)
for t, h in zip(unclass_t3, unclass_top3):
    paint(classes, tc, hc, t, t + 0.09, 0.18, h, UNCLASS)
for t0, t1, b, h in unclass_blocks:
    paint(classes, tc, hc, t0, t1, b, h, UNCLASS)
paint(classes, tc, hc, 13.95, 15.74, 0.18, 0.7, UNCLASS)
paint(classes, tc, hc, 15.96, 24.0, 0.18, 0.3, UNCLASS)
for t0, t1, b, h in unclass_holes:
    paint(classes, tc, hc, t0, t1, b, h, 0)

for t, b, h in [(liquid_t1, liquid_base1, liquid_top1), (liquid_t2, liquid_base2, liquid_top2),
                (liquid_t3, liquid_base3, liquid_top3), (liquid_t4, liquid_base4, liquid_top4),
                (liquid_t5, liquid_base5, liquid_top5)]:
    paint_profile(classes, tc, hc, t, b, h, LIQUID)
for t0, t1, b, h in liquid_blocks:
    paint(classes, tc, hc, t0, t1, b, h, LIQUID)
for t0, t1, b, h in liquid_holes:
    paint(classes, tc, hc, t0, t1, b, h, 0)
paint(classes, tc, hc, 21.42, 21.8, 0.18, 1.0, UNCLASS)
paint(classes, tc, hc, 21.8, 21.9, 0.18, 0.5, UNCLASS)
paint(classes, tc, hc, 13.73, 13.95, 4.4, 4.76, UNCLASS)
for t0, t1, b, h in drizzle_blocks:
    paint(classes, tc, hc, t0, t1, b, h, DRIZZLE)
for t0, t1, b, h in rain_blocks:
    paint(classes, tc, hc, t0, t1, b, h, RAIN)

class_cmap = ListedColormap(['white', class_colors[5], class_colors[4], class_colors[3],
                             class_colors[2], class_colors[1], class_colors[0]])

fig = plt.figure(figsize=(W / 100, H / 100), dpi=100)

# panel 1
ax1 = fig.add_axes(pos(114.5, 8, 1475.5, 280))
ax1.pcolormesh(time_edges, class_edges, classes, cmap=class_cmap, vmin=-0.5, vmax=6.5, antialiased=False)
ax1.plot(ceilo_t, ceilo_h, color='k', lw=3)
ax1.scatter(melt_t, melt_h, s=5, c='k', marker='s', linewidths=0)
ax1.set_ylim(0, 7.86)
style_axis(ax1)
ax1.set_xticklabels([])
ax1.set_yticks(height_ticks)
ax1.set_yticklabels(height_labels)
shift_label(ax1.get_yticklabels()[0], 8)
ax1.text(0.62, 6.75, 'cloud classification', fontsize=22, va='center', ha='left')

# panel 2
lwc_cmap = LinearSegmentedColormap.from_list('lwc', [(v / 1.5, c) for v, c in cbar_nodes], N=64)
lwc_edges = np.arange(0, 4.8, 0.04)
hc2 = 0.5 * (lwc_edges[:-1] + lwc_edges[1:])
lwc = np.full((len(hc2), len(tc)), np.nan)
for t0, t1, b, h, v in lwc_blocks:
    paint(lwc, tc, hc2, t0, t1, b, h, v)
for t0, t1, b, h in lwc_holes:
    paint(lwc, tc, hc2, t0, t1, b, h, np.nan)

ax2 = fig.add_axes(pos(114.5, 280, 1475.5, 553))
ax2.pcolormesh(time_edges, lwc_edges, lwc, cmap=lwc_cmap, vmin=0, vmax=1.5, antialiased=False)
ax2.scatter(lwc_dots_t, lwc_dots_h, s=5, c='k', marker='s', linewidths=0)
ax2.set_ylim(0, 4.79)
style_axis(ax2)
ax2.set_xticklabels([])
ax2.set_yticks([0, 1, 2, 3, 4])
shift_label(ax2.get_yticklabels()[0], 10)
ax2.text(0.62, 4.12, 'lwc on radar res. [gm$^{-3}$]', fontsize=20, va='center', ha='left')

# panel 3
ax3 = fig.add_axes(pos(114.5, 553, 1475.5, 737))
ax3.scatter(blue_t, blue_v, s=42, marker='^', facecolors='none', edgecolors='#181890', linewidths=1.2, alpha=0.7)
ax3.scatter(red_t, red_v, s=60, marker='^', facecolors='none', edgecolors='#ff0000', linewidths=2.8)
ax3.plot([0, 24], [0, 0], color='#303030', lw=1.5, ls=(0, (1, 3.7)), zorder=5)
ax3.plot(legend_t, legend_blue, color='#7878c8', lw=1, marker='^', ms=13, mfc='white', mec='#6868b8', mew=1)
ax3.plot(legend_t, legend_red, color='#ff9090', lw=1, marker='^', ms=13, mfc='white', mec='#ff8080', mew=1)
ax3.set_ylim(-103, 994)
style_axis(ax3)
ax3.spines['bottom'].set_color(GREY)
ax3.set_yticks(lwp_ticks)
ax3.tick_params(axis='x', which='major', labelsize=24, pad=12)
ax3.text(7.25, 885, 'HATPRO-LWP', fontsize=13, va='center', ha='left')

fig.text(62 / W, 1 - 146 / H, 'Height [km]', rotation=90, fontsize=20, ha='center', va='center')
fig.text(62 / W, 1 - 461 / H, 'Height [km]', rotation=90, fontsize=20, ha='center', va='center')
fig.text(30 / W, 1 - 643 / H, 'LWP [g m$^{-2}$]', rotation=90, fontsize=20, ha='center', va='center')
fig.text(798 / W, 1 - 811 / H, 'Time [UTC]', fontsize=24, ha='center', va='center')

# class legend
leg = fig.add_axes(pos(1503, 8, 1575, 281))
leg.set_xlim(0, 1)
leg.set_ylim(6, 0)
leg.axis('off')
for i, name in enumerate(class_names):
    leg.add_patch(Rectangle((0, i), 1, 1, color=class_colors[i], lw=0))
    fig.text(1587 / W, 1 - (35 + 44.6 * i) / H, name, fontsize=22, ha='left', va='center')

# colour bar
cax = fig.add_axes(pos(1603, 417, 1693, 735))
levels = np.linspace(0, 1.5, 65)
cax.pcolormesh([0, 1], levels, levels[:-1].reshape(-1, 1), cmap=lwc_cmap, vmin=0, vmax=1.5, antialiased=False)
cax.plot([0, 1], [1.5, 1.5], color='#202020', lw=2.5, clip_on=False)
cax.set_xlim(0, 1)
cax.set_ylim(0, 1.5)
cax.set_xticks([])
cax.set_yticks(cbar_ticks)
cax.set_yticklabels(cbar_labels)
cax.tick_params(axis='y', direction='out', length=5, width=1.2, color=GREY, labelsize=20, pad=10)
shift_label(cax.get_yticklabels()[0], 10)
shift_label(cax.get_yticklabels()[-1], -8)
for s in cax.spines.values():
    s.set_visible(False)
fig.text(1665 / W, 1 - 768 / H, 'LWC [gm$^{-3}$]', fontsize=16, ha='center', va='center')

fig.savefig('out.png', dpi=100)
